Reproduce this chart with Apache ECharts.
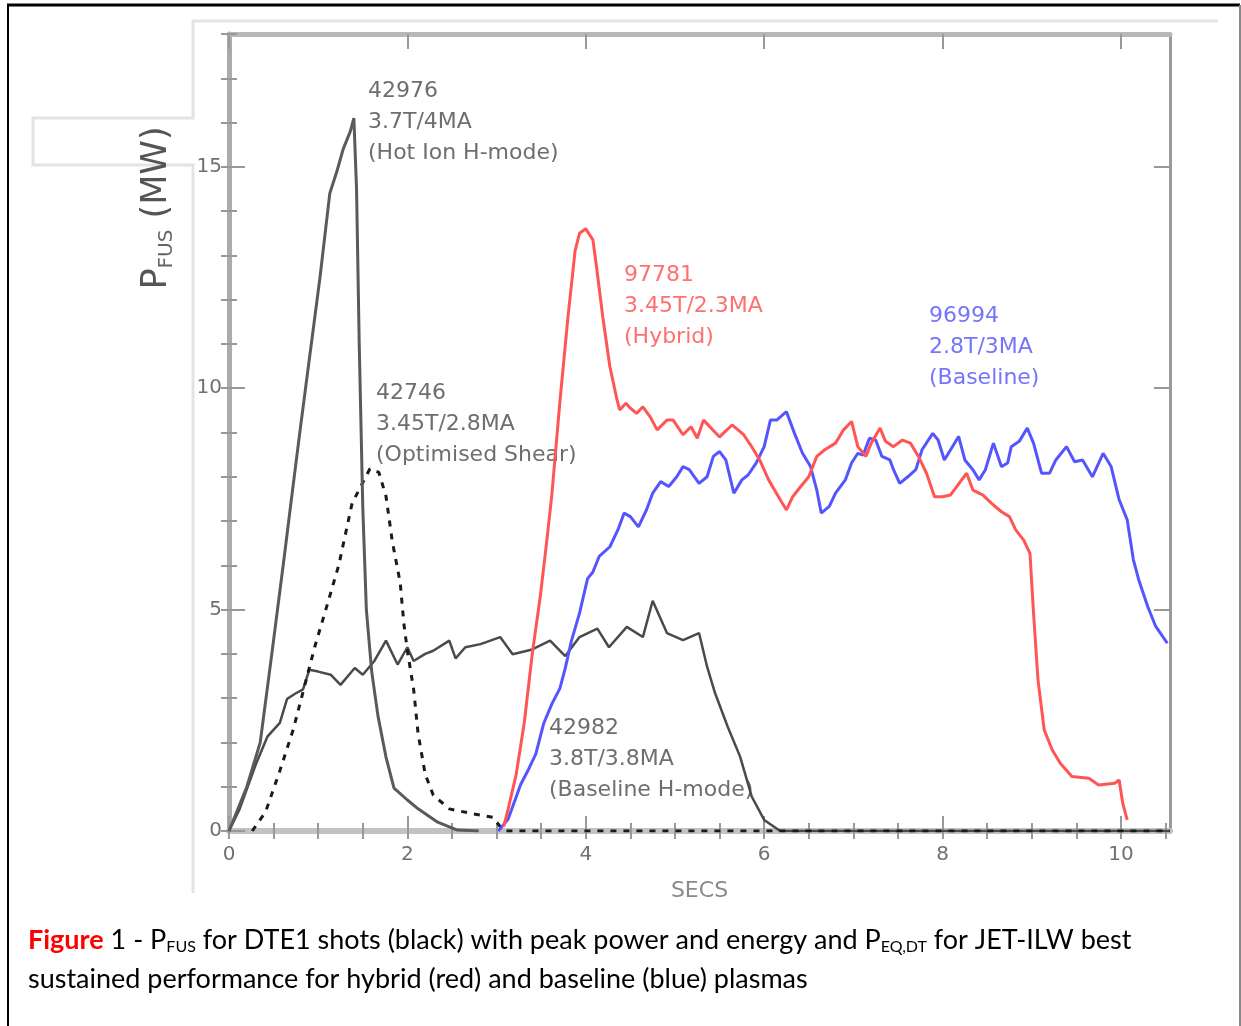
<!DOCTYPE html>
<html>
<head>
<meta charset="utf-8">
<script src="https://cdn.jsdelivr.net/npm/echarts@6.0.0/dist/echarts.min.js"></script>
<style>
  html, body { margin: 0; padding: 0; background: #fff; }
  #chart { width: 1241px; height: 1026px; }
</style>
</head>
<body>
<div id="chart"></div>
<script>
"use strict"
// tick positions
var xMajorTicks = [0, 2, 4, 6, 8, 10];
var xMinorTicks = [0, 0.5, 1, 1.5, 2, 2.5, 3, 3.5, 4, 4.5, 5, 5.5, 6, 6.5, 7, 7.5, 8, 8.5, 9, 9.5, 10, 10.5];
var yMajorTicks = [0, 5, 10, 15];
var yMinorTicks = [0, 1, 2, 3, 4, 5, 6, 7, 8, 9, 10, 11, 12, 13, 14, 15, 16, 17, 18];

// 42976 hot ion H-mode (black solid)
var shot42976 = [[0,0],[0.2,1.0],[0.35,2.0],[0.48,4.0],[0.62,6.2],[0.7,7.5],[0.8,9.1],[0.91,10.8],[1.02,12.5],
  [1.13,14.4],[1.21,14.9],[1.28,15.4],[1.36,15.8],[1.4,16.1],[1.43,14.5],[1.46,11.0],[1.5,7.3],[1.54,5.0],
  [1.6,3.6],[1.67,2.6],[1.76,1.67],[1.85,0.97],[2.0,0.7],[2.12,0.5],[2.34,0.2],[2.56,0.02],[2.8,0]];

// 42746 optimised shear (black dashed)
var shot42746 = [[0.26,0],[0.41,0.43],[0.57,1.36],[0.72,2.29],[0.79,2.83],[0.96,4.15],[1.1,5.1],[1.23,6.0],
  [1.38,7.4],[1.5,7.87],[1.58,8.18],[1.68,8.1],[1.76,7.56],[1.83,6.55],[1.92,5.6],[1.96,4.69],[2.0,4.07],
  [2.07,3.2],[2.12,2.2],[2.2,1.28],[2.29,0.81],[2.47,0.5],[2.73,0.39],[2.96,0.31],[3.04,0.1],[3.1,0],[10.55,0]];

// 42982 baseline H-mode (black solid)
var shot42982 = [[0,0],[0.12,0.5],[0.3,1.5],[0.43,2.13],[0.57,2.44],[0.65,2.98],[0.74,3.1],[0.83,3.2],[0.9,3.64],
  [1.0,3.6],[1.14,3.53],[1.25,3.3],[1.41,3.68],[1.5,3.53],[1.63,3.84],[1.76,4.3],[1.89,3.76],[2.0,4.15],
  [2.07,3.84],[2.2,4.0],[2.29,4.07],[2.47,4.3],[2.54,3.9],[2.65,4.15],[2.82,4.22],[3.04,4.38],[3.18,3.99],
  [3.4,4.1],[3.6,4.3],[3.77,3.95],[3.93,4.38],[4.13,4.57],[4.26,4.15],[4.46,4.61],[4.64,4.38],[4.75,5.2],
  [4.91,4.47],[5.09,4.31],[5.27,4.47],[5.36,3.71],[5.45,3.11],[5.59,2.36],[5.73,1.68],[5.86,0.78],[6.0,0.25],
  [6.18,0],[10.55,0]];

// 97781 hybrid (red)
var shot97781 = [[3.08,0.1],[3.13,0.5],[3.22,1.28],[3.31,2.44],[3.4,4.0],[3.49,5.3],[3.56,6.5],[3.62,7.6],
  [3.71,9.7],[3.8,11.6],[3.88,13.1],[3.93,13.5],[4.0,13.6],[4.08,13.35],[4.12,12.75],[4.19,11.62],[4.27,10.49],
  [4.35,9.74],[4.38,9.51],[4.45,9.66],[4.5,9.55],[4.57,9.43],[4.64,9.58],[4.72,9.36],[4.8,9.06],[4.91,9.28],
  [4.98,9.28],[5.09,8.95],[5.18,9.13],[5.25,8.87],[5.32,9.28],[5.5,8.9],[5.64,9.17],[5.77,8.95],[5.86,8.68],
  [5.95,8.38],[6.05,7.93],[6.18,7.48],[6.25,7.25],[6.32,7.55],[6.41,7.78],[6.5,8.0],[6.59,8.46],[6.68,8.61],
  [6.8,8.76],[6.89,9.06],[6.98,9.25],[7.05,8.68],[7.14,8.46],[7.2,8.76],[7.3,9.1],[7.36,8.8],[7.45,8.68],
  [7.55,8.83],[7.64,8.76],[7.73,8.46],[7.82,8.08],[7.91,7.55],[8.0,7.55],[8.09,7.59],[8.2,7.89],[8.27,8.08],
  [8.34,7.7],[8.45,7.59],[8.55,7.4],[8.66,7.21],[8.75,7.1],[8.82,6.8],[8.91,6.57],[8.98,6.27],[9.02,4.92],
  [9.07,3.41],[9.14,2.28],[9.23,1.83],[9.32,1.53],[9.45,1.23],[9.64,1.19],[9.75,1.04],[9.93,1.08],[9.98,1.15],
  [10.02,0.63],[10.07,0.25]];

// 96994 baseline (blue)
var shot96994 = [[3.02,0],[3.13,0.27],[3.27,1.05],[3.35,1.36],[3.44,1.74],[3.53,2.44],[3.62,2.87],[3.71,3.22],
  [3.77,3.68],[3.84,4.3],[3.93,4.92],[4.02,5.7],[4.08,5.85],[4.15,6.2],[4.27,6.42],[4.36,6.8],[4.43,7.18],
  [4.5,7.1],[4.59,6.87],[4.68,7.25],[4.75,7.63],[4.84,7.89],[4.93,7.78],[5.02,8.0],[5.09,8.23],[5.16,8.16],
  [5.27,7.85],[5.36,8.0],[5.43,8.46],[5.5,8.57],[5.57,8.38],[5.66,7.63],[5.75,7.93],[5.82,8.04],[5.91,8.31],
  [6.0,8.68],[6.07,9.28],[6.14,9.28],[6.25,9.47],[6.34,8.98],[6.43,8.53],[6.52,8.23],[6.59,7.7],[6.64,7.18],
  [6.73,7.33],[6.8,7.63],[6.91,7.93],[6.98,8.31],[7.05,8.53],[7.11,8.49],[7.18,8.87],[7.25,8.83],[7.32,8.46],
  [7.41,8.38],[7.45,8.16],[7.52,7.85],[7.61,8.0],[7.7,8.16],[7.77,8.61],[7.89,8.98],[7.95,8.83],[8.02,8.38],
  [8.09,8.61],[8.18,8.91],[8.25,8.38],[8.34,8.16],[8.41,7.93],[8.48,8.16],[8.57,8.76],[8.66,8.23],[8.73,8.31],
  [8.77,8.68],[8.86,8.8],[8.95,9.1],[9.02,8.76],[9.11,8.08],[9.2,8.08],[9.27,8.38],[9.39,8.68],[9.48,8.34],
  [9.57,8.38],[9.68,8.0],[9.8,8.53],[9.89,8.23],[9.98,7.48],[10.07,7.03],[10.14,6.12],[10.2,5.67],[10.3,5.07],
  [10.39,4.62],[10.52,4.24]];

var XMAX = 10.55, YMAX = 18;
var tickColor = '#999';
var labelColor = '#707070';
var plotFont = 'DejaVu Sans';

function xAx(pos, ticks, len, lineStyle, labels) {
  return {
    type: 'value', position: pos, min: 0, max: XMAX,
    axisLine: lineStyle ? { show: true, onZero: false, lineStyle: lineStyle } : { show: false },
    axisTick: { show: true, inside: true, length: len, customValues: ticks, lineStyle: { color: tickColor, width: 2 } },
    axisLabel: labels ? { show: true, customValues: labels, color: labelColor, fontSize: 20, fontFamily: plotFont, margin: 14 } : { show: false },
    splitLine: { show: false }
  };
}
function yAx(pos, ticks, len, lineStyle, labels) {
  return {
    type: 'value', position: pos, min: 0, max: YMAX,
    axisLine: lineStyle ? { show: true, onZero: false, lineStyle: lineStyle } : { show: false },
    axisTick: { show: true, inside: true, length: len, customValues: ticks, lineStyle: { color: tickColor, width: 2 } },
    axisLabel: labels ? { show: true, customValues: labels, color: labelColor, fontSize: 20, fontFamily: plotFont, margin: 7 } : { show: false },
    splitLine: { show: false }
  };
}

var xBottom = xAx('bottom', xMajorTicks, 15, { color: '#c2c2c2', width: 6 }, xMajorTicks);
xBottom.name = 'SECS';
xBottom.nameLocation = 'middle';
xBottom.nameGap = 49;
xBottom.nameTextStyle = { color: '#8a8a8a', fontSize: 22, fontFamily: plotFont };

function lineSeries(data, color, width, dashed) {
  return {
    type: 'line', data: data, showSymbol: false, smooth: false, animation: false,
    xAxisIndex: 0, yAxisIndex: 0,
    lineStyle: dashed ? { color: color, width: width, type: [6, 7] } : { color: color, width: width }
  };
}

function note(x, y, lines, color) {
  return {
    type: 'text', x: x, y: y, silent: true,
    style: { text: lines.join('\n'), fill: color, fontSize: 22, fontFamily: plotFont, lineHeight: 31, align: 'left', verticalAlign: 'top' }
  };
}

var option = {
  backgroundColor: '#fff',
  animation: false,
  grid: { left: 229, right: 71, top: 34, bottom: 195, containLabel: false },
  xAxis: [
    xBottom,
    xAx('bottom', xMinorTicks, 8, null, null),
    xAx('top', xMajorTicks, 15, { color: '#b8b8b8', width: 5 }, null),
    xAx('top', xMinorTicks, 8, null, null)
  ],
  yAxis: [
    yAx('left', yMajorTicks, 16, { color: '#ababab', width: 5 }, yMajorTicks),
    yAx('left', yMinorTicks, 8, null, null),
    yAx('right', yMajorTicks, 16, { color: '#9a9a9a', width: 3 }, null),
    yAx('right', yMinorTicks, 8, null, null)
  ],
  series: [
    lineSeries(shot42982, '#4a4a4a', 2.5, false),
    lineSeries(shot42746, '#1a1a1a', 3, true),
    lineSeries(shot42976, '#5a5a5a', 3, false),
    lineSeries(shot96994, '#5555ff', 3, false),
    lineSeries(shot97781, '#ff5555', 3, false)
  ],
  graphic: [
    // page frame
    { type: 'line', silent: true, shape: { x1: 7, y1: 5, x2: 1240, y2: 5 }, style: { stroke: '#000', lineWidth: 3 } },
    { type: 'line', silent: true, shape: { x1: 8, y1: 5, x2: 8, y2: 1026 }, style: { stroke: '#000', lineWidth: 2 } },
    { type: 'line', silent: true, shape: { x1: 1240, y1: 5, x2: 1240, y2: 1026 }, style: { stroke: '#888', lineWidth: 2 } },
    // figure border
    { type: 'polyline', silent: true, z: -1,
      shape: { points: [[1218, 21], [193, 21], [193, 118], [33, 118], [33, 165], [193, 165], [193, 893]] },
      style: { stroke: '#e3e3e3', lineWidth: 3, fill: null } },
    // y axis title
    { type: 'text', x: 157, y: 208, rotation: Math.PI / 2, silent: true,
      style: {
        text: '{m|P}{s|FUS}{m| (MW)}', align: 'center', verticalAlign: 'middle',
        rich: {
          m: { fontSize: 35, fontFamily: plotFont, fill: '#555', lineHeight: 40 },
          s: { fontSize: 20, fontFamily: plotFont, fill: '#666', lineHeight: 14, verticalAlign: 'bottom' }
        }
      } },
    // shot annotations
    note(368, 76, ['42976', '3.7T/4MA', '(Hot Ion H-mode)'], '#6e6e6e'),
    note(376, 378, ['42746', '3.45T/2.8MA', '(Optimised Shear)'], '#6e6e6e'),
    note(624, 260, ['97781', '3.45T/2.3MA', '(Hybrid)'], '#ff7070'),
    note(929, 301, ['96994', '2.8T/3MA', '(Baseline)'], '#7474ff'),
    note(549, 713, ['42982', '3.8T/3.8MA', '(Baseline H-mode)'], '#6e6e6e'),
    // caption
    { type: 'text', x: 28, y: 921, silent: true,
      style: {
        text: '{r|Figure} 1 - P{s|FUS} for DTE1 shots (black) with peak power and energy and P{s|EQ,DT} for JET-ILW best\nsustained performance for hybrid (red) and baseline (blue) plasmas',
        fill: '#000', fontSize: 27, fontFamily: 'Lato', lineHeight: 39, align: 'left', verticalAlign: 'top',
        rich: {
          r: { fill: '#ff0000', fontWeight: 'bold', fontSize: 27, fontFamily: 'Lato', lineHeight: 39 },
          s: { fill: '#000', fontSize: 16, fontFamily: 'Lato', lineHeight: 39, height: 26, verticalAlign: 'bottom' }
        }
      } }
  ]
};

var chart = echarts.init(document.getElementById('chart'), null, { renderer: 'canvas' });
chart.setOption(option);
</script>
</body>
</html>
